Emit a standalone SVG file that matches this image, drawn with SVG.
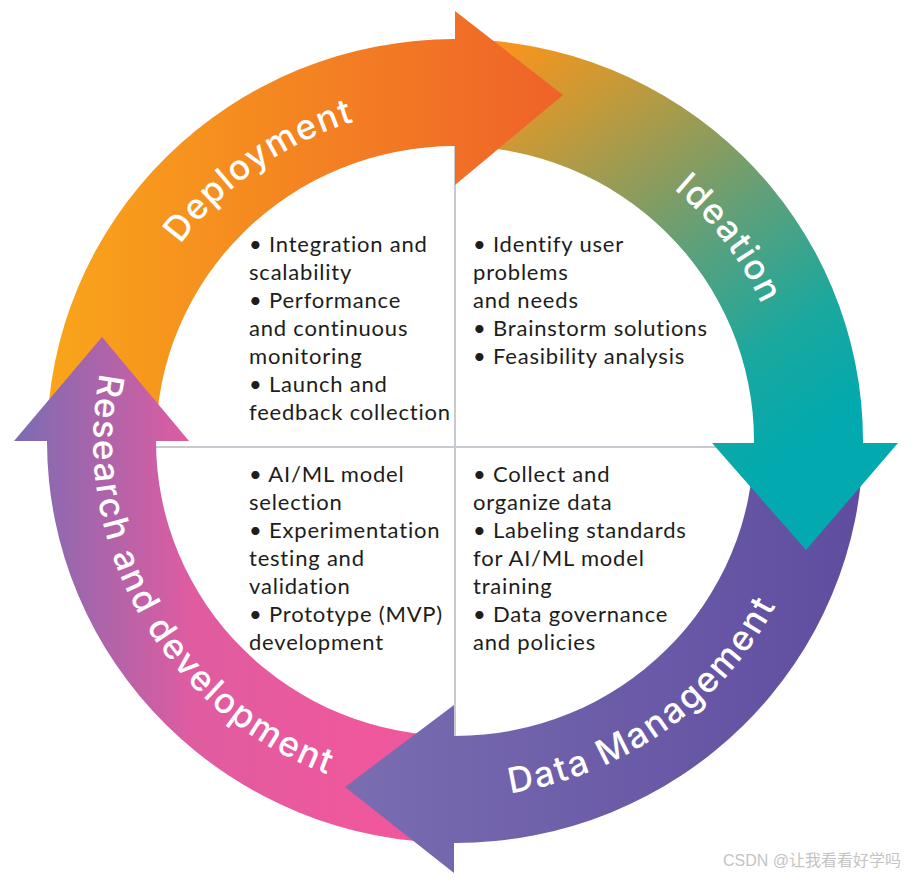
<svg xmlns="http://www.w3.org/2000/svg" width="918" height="879" viewBox="0 0 918 879">
<style>
.body{font-family:"Lato","Open Sans",sans-serif;font-size:22px;fill:#1d1d1b;letter-spacing:0.8px}
.lbl{font-family:"Inter","Open Sans",sans-serif;font-size:35px;font-weight:500;fill:#ffffff;letter-spacing:1.6px}
.div{stroke:#c5cbd1;stroke-width:2;fill:none}
.wm{font-family:"Liberation Sans","Noto Sans CJK SC",sans-serif;font-size:16px;fill:#c4c4c4}
</style>
<defs>
<linearGradient id="gDep" gradientUnits="userSpaceOnUse" x1="47" y1="0" x2="563" y2="0">
<stop offset="0" stop-color="#f9a51a"/><stop offset="1" stop-color="#ef6229"/>
</linearGradient>
<linearGradient id="gIde" gradientUnits="userSpaceOnUse" x1="520" y1="40" x2="800" y2="440">
<stop offset="0" stop-color="#f7941d"/><stop offset="0.2" stop-color="#c39a3a"/><stop offset="0.4" stop-color="#8a9c5e"/><stop offset="0.55" stop-color="#5ea07a"/><stop offset="0.8" stop-color="#1ba89e"/><stop offset="1" stop-color="#02a9ae"/>
</linearGradient>
<linearGradient id="gDM" gradientUnits="userSpaceOnUse" x1="345" y1="0" x2="898" y2="0">
<stop offset="0" stop-color="#7a6db1"/><stop offset="1" stop-color="#5d4a9e"/>
</linearGradient>
<linearGradient id="gRD" gradientUnits="userSpaceOnUse" x1="14" y1="0" x2="455" y2="0">
<stop offset="0" stop-color="#7b6cb3"/><stop offset="0.4" stop-color="#df5ca1"/><stop offset="0.75" stop-color="#ee589c"/><stop offset="1" stop-color="#ef579b"/>
</linearGradient>
<path id="pDep" d="M 117.24 474.80 A 339.5 334.5 0 0 1 594.17 135.90"/>
<path id="pIde" d="M 416.91 111.63 A 336.5 331.5 0 0 1 763.59 573.19"/>
<path id="pDM" d="M 307.88 766.50 A 361.7 356.3 0 0 0 814.72 403.76"/>
<path id="pRD" d="M 144.31 258.56 A 361.7 356.3 0 0 0 449.95 797.26"/>
</defs>
<rect width="918" height="879" fill="#ffffff"/>
<g id="dividers">
<line class="div" x1="455" y1="146" x2="455" y2="736"/>
<line class="div" x1="156" y1="447" x2="754" y2="447"/>
</g>
<g id="connectors">
<path fill="url(#gDep)" d="M 47 441 A 408 402 0 0 1 455 39 L 455 146 A 299 295 0 0 0 156 441 Z"/>
<path fill="url(#gIde)" d="M 455 39 A 408 402 0 0 1 863 441 L 754 441 A 299 295 0 0 0 455 146 Z"/>
<path fill="url(#gDM)" d="M 863 441 A 408 402 0 0 1 455 843 L 455 736 A 299 295 0 0 0 754 441 Z"/>
<path fill="url(#gRD)" d="M 455 843 A 408 402 0 0 1 47 441 L 156 441 A 299 295 0 0 0 455 736 Z"/>
<path fill="url(#gDep)" d="M 452 39 L 455 39 L 455 11 L 563 95 L 455 185 L 455 146 L 452 146 Z"/>
<path fill="url(#gIde)" d="M 863 438 L 863 443 L 898 443 L 806 550 L 712 443 L 754 443 L 754 438 Z"/>
<path fill="url(#gDM)" d="M 458 843 L 454 843 L 454 873 L 345 787 L 454 705 L 454 736 L 458 736 Z"/>
<path fill="url(#gRD)" d="M 47 444 L 47 441 L 14 441 L 102 337 L 189 441 L 156 441 L 156 444 Z"/>
</g>
<g id="node-deployment">
<text class="lbl"><textPath href="#pDep" startOffset="50%" text-anchor="middle">Deployment</textPath></text>
<text class="body">
<tspan x="249" y="252">• Integration and</tspan>
<tspan x="249" y="280">scalability</tspan>
<tspan x="249" y="308">• Performance</tspan>
<tspan x="249" y="336">and continuous</tspan>
<tspan x="249" y="364">monitoring</tspan>
<tspan x="249" y="392">• Launch and</tspan>
<tspan x="249" y="420">feedback collection</tspan>
</text>
</g>
<g id="node-ideation">
<text class="lbl"><textPath href="#pIde" startOffset="50%" text-anchor="middle">Ideation</textPath></text>
<text class="body">
<tspan x="473" y="252">• Identify user</tspan>
<tspan x="473" y="280">problems</tspan>
<tspan x="473" y="308">and needs</tspan>
<tspan x="473" y="336">• Brainstorm solutions</tspan>
<tspan x="473" y="364">• Feasibility analysis</tspan>
</text>
</g>
<g id="node-data-management">
<text class="lbl"><textPath href="#pDM" startOffset="50%" text-anchor="middle" style="letter-spacing:2.2px">Data Management</textPath></text>
<text class="body">
<tspan x="473" y="482">• Collect and</tspan>
<tspan x="473" y="510">organize data</tspan>
<tspan x="473" y="538">• Labeling standards</tspan>
<tspan x="473" y="566">for AI/ML model</tspan>
<tspan x="473" y="594">training</tspan>
<tspan x="473" y="622">• Data governance</tspan>
<tspan x="473" y="650">and policies</tspan>
</text>
</g>
<g id="node-research">
<text class="lbl"><textPath href="#pRD" startOffset="50%" text-anchor="middle" style="letter-spacing:2px">Research and development</textPath></text>
<text class="body">
<tspan x="249" y="482">• AI/ML model</tspan>
<tspan x="249" y="510">selection</tspan>
<tspan x="249" y="538">• Experimentation</tspan>
<tspan x="249" y="566">testing and</tspan>
<tspan x="249" y="594">validation</tspan>
<tspan x="249" y="622">• Prototype (MVP)</tspan>
<tspan x="249" y="650">development</tspan>
</text>
</g>
<text class="wm" x="723" y="866">CSDN @让我看看好学吗</text>
</svg>
